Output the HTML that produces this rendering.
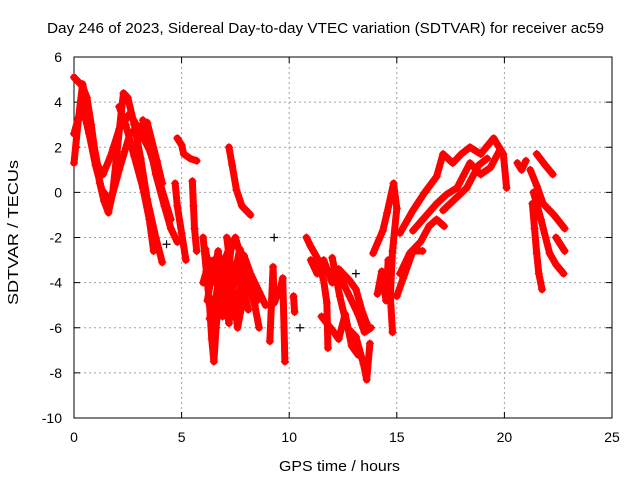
<!DOCTYPE html>
<html><head><meta charset="utf-8"><style>
body{margin:0;background:#fff}
svg{display:block;font-family:"Liberation Sans",sans-serif}
</style></head><body>
<svg id="chart" width="640" height="480">
<text x="47" y="33" font-size="15" textLength="557" lengthAdjust="spacingAndGlyphs">Day 246 of 2023, Sidereal Day-to-day VTEC variation (SDTVAR) for receiver ac59</text>
<text x="279" y="471" font-size="15" textLength="121" lengthAdjust="spacingAndGlyphs">GPS time / hours</text>
<text transform="translate(18,305) rotate(-90)" font-size="15" textLength="145" lengthAdjust="spacingAndGlyphs">SDTVAR / TECUs</text>
<g id="grid"></g>
<g id="axes"></g>
<g id="marks"></g>
</svg>
<script>
const xTicks=[0,5,10,15,20,25];
const yTicks=[-10,-8,-6,-4,-2,0,2,4,6];
const trackA=[[0,5.1],[0.2,4.9],[0.4,4.7],[0.6,4.2],[0.8,3],[1.0,1.6],[1.2,0.4],[1.4,-0.4],[1.6,-0.9],[1.8,0],[2.0,1.8],[2.2,3.6],[2.3,4.4],[2.5,4.2],[2.8,3.0],[3.1,1.5],[3.4,-0.3],[3.8,-2.0],[4.1,-3.1]];
const trackB=[[0,1.3],[0.2,3.2],[0.4,4.8],[0.6,3.8],[0.9,2.2],[1.1,1.2],[1.35,0.8],[1.7,1.6],[2.1,2.8],[2.6,3.5],[3.0,2.8],[3.5,1.9],[4.0,0.4],[4.5,-1.2]];
const trackC=[[0,2.6],[0.2,3.3],[0.4,3.8],[0.7,2.6],[1.0,1.2],[1.3,0.1],[1.7,-0.4],[2.1,1.0],[2.6,2.6],[3.0,2.9],[3.4,3.1],[3.85,1.4],[4.1,0.4]];
const trackC2=[[2.1,3.8],[2.4,3.0],[2.8,1.6],[3.2,0.2],[3.5,-1.2],[3.7,-2.6]];
const trackC3=[[3.2,3.2],[3.5,2.2],[3.8,0.8],[4.2,-0.6],[4.5,-1.6],[4.8,-2.2]];
const trackD=[[4.8,2.4],[5.0,2.1],[5.1,1.7],[5.4,1.5],[5.7,1.4]];
const trackE=[[4.7,0.4],[4.8,-0.6],[5.0,-1.8],[5.2,-3.0]];
const trackF=[[5.5,0.5],[5.55,-0.6],[5.6,-1.6],[5.7,-2.6]];
const trackG=[[7.2,2.0],[7.35,1.2],[7.55,0.1],[7.8,-0.6],[8.2,-1.0]];
const trackG2=[[7.1,-2.0],[7.2,-2.8],[7.3,-2.2]];
const trackH=[[6.0,-2.0],[6.15,-3.5],[6.3,-5.0],[6.4,-6.5],[6.5,-7.5],[6.6,-6.0],[6.8,-4.0],[7.0,-3.0],[7.2,-2.5],[7.4,-4.5],[7.6,-6.0],[7.8,-5.0],[8.0,-3.5]];
const trackI=[[6.0,-4.0],[6.3,-3.0],[6.6,-3.5],[6.9,-5.5],[7.1,-4.0],[7.3,-2.5],[7.5,-2.0],[7.8,-3.0],[8.1,-4.0],[8.4,-5.0],[8.6,-6.0]];
const trackJ=[[6.1,-2.5],[6.4,-4.0],[6.7,-2.6],[7.0,-4.5],[7.2,-5.8],[7.5,-3.5],[7.7,-2.5],[8.0,-3.2],[8.3,-4.2],[8.5,-4.8]];
const trackJ2=[[6.2,-4.8],[6.5,-3.0],[6.8,-5.0],[7.0,-3.6],[7.3,-3.2],[7.6,-4.0],[7.9,-2.8],[8.2,-3.6],[8.6,-4.4],[8.9,-5.0]];
const trackJ3=[[6.3,-5.6],[6.6,-4.6],[6.9,-3.0],[7.2,-4.8],[7.5,-5.2],[7.8,-4.0],[8.1,-5.2]];
const trackK=[[9.1,-6.6],[9.25,-3.3],[9.3,-4.9],[9.6,-4.2],[9.7,-3.8],[9.8,-7.5]];
const trackK2=[[10.2,-4.6],[10.25,-5.3]];
const trackL=[[10.8,-2.0],[11.0,-2.4],[11.3,-2.9],[11.6,-3.9],[11.75,-4.9],[11.8,-6.9]];
const trackL2=[[12.0,-2.9],[12.35,-4.6],[12.7,-6.0],[13.1,-6.4],[13.45,-7.6],[13.6,-8.3],[13.75,-6.7]];
const trackL3=[[11.9,-3.5],[12.3,-3.4],[12.8,-3.9],[13.1,-4.3],[13.4,-5.3],[13.6,-5.8]];
const trackL4=[[11.5,-5.5],[12.0,-6.1],[12.3,-6.5],[12.6,-5.4],[12.9,-6.8],[13.2,-7.2]];
const trackL5=[[11.0,-3.0],[11.3,-3.6],[11.6,-3.0],[12.0,-4.0],[12.4,-3.8],[12.8,-4.6],[13.2,-5.4],[13.5,-6.2],[13.8,-6.0]];
const trackM=[[13.9,-2.7],[14.35,-1.7],[14.55,-0.9],[14.85,0.4],[15.0,-0.7],[14.8,-2.6],[14.7,-4.6],[14.8,-6.2]];
const trackM2=[[14.1,-4.5],[14.3,-3.5],[14.5,-4.8],[14.6,-3.0]];
const trackN=[[15.15,-1.8],[15.75,-0.8],[16.3,0],[16.85,0.7],[17.15,1.7],[17.6,1.3],[18.0,1.7],[18.4,2.0],[18.9,1.7],[19.5,2.4],[19.95,1.7],[20.1,0.2]];
const trackO=[[15.75,-1.7],[16.3,-1.1],[16.85,-0.5],[17.3,-0.1],[17.8,0.2],[18.4,1.3],[18.9,0.8],[19.35,1.1],[19.8,1.9]];
const trackP=[[17.15,-0.8],[17.7,-0.3],[18.25,0.2],[18.8,1.2],[19.2,1.5]];
const trackQ=[[15.15,-3.6],[15.6,-2.7],[16.1,-2.2],[16.5,-1.5],[16.85,-1.2],[17.2,-1.5]];
const trackR=[[15.0,-4.6],[15.3,-3.8],[15.75,-2.6],[16.2,-2.6]];
const trackS=[[20.6,1.3],[20.8,1.0],[21.0,1.4]];
const trackT=[[21.5,1.7],[21.9,1.2],[22.25,0.8]];
const trackU=[[21.2,1.0],[21.5,0.3],[21.8,-0.5],[22.3,-1.0],[22.8,-1.6]];
const trackV=[[21.35,0.0],[21.7,-1.2],[22.1,-2.7],[22.4,-3.2],[22.75,-3.6]];
const trackV2=[[22.4,-2.0],[22.8,-2.6]];
const trackW=[[21.3,-0.5],[21.4,-1.6],[21.5,-2.7],[21.6,-3.6],[21.75,-4.3]];
const blackPts=[[9.3,-2.0],[10.5,-6.0],[4.3,-2.3],[13.1,-3.6]];
const tracks=[trackA,trackB,trackC,trackC2,trackC3,trackD,trackE,trackF,trackG,trackG2,trackH,trackI,trackJ,trackJ2,trackJ3,trackK,trackK2,trackL,trackL2,trackL3,trackL4,trackL5,trackM,trackM2,trackN,trackO,trackP,trackQ,trackR,trackS,trackT,trackU,trackV,trackV2,trackW];

const X0=74,X1=612,Y0=418,Y1=57;
const xs=t=>X0+(t-0)/(25-0)*(X1-X0);
const ys=v=>Y0-(v+10)/(16)*(Y0-Y1);
const NS="http://www.w3.org/2000/svg";
function mk(tag,attrs,parent){const e=document.createElementNS(NS,tag);for(const k in attrs)e.setAttribute(k,attrs[k]);parent.appendChild(e);return e;}
const grid=document.getElementById('grid'),axes=document.getElementById('axes'),marks=document.getElementById('marks');
xTicks.forEach(t=>{
  if(t>0&&t<25){const g=mk('line',{x1:xs(t),x2:xs(t),y1:Y1,y2:Y0,stroke:'#a0a0a0','stroke-dasharray':'2,3'},grid);
  
  }
  mk('line',{x1:xs(t),x2:xs(t),y1:Y0,y2:Y0-6,stroke:'#000'},axes);
  mk('line',{x1:xs(t),x2:xs(t),y1:Y1,y2:Y1+6,stroke:'#000'},axes);
  const l=mk('text',{x:xs(t),y:Y0+24,'font-size':14,'text-anchor':'middle'},axes);l.textContent=t;
  
  
});
yTicks.forEach(v=>{
  if(v>-10&&v<6){const g=mk('line',{x1:X0,x2:X1,y1:ys(v),y2:ys(v),stroke:'#a0a0a0','stroke-dasharray':'2,3'},grid);
  
  }
  mk('line',{x1:X0,x2:X0+6,y1:ys(v),y2:ys(v),stroke:'#000'},axes);
  mk('line',{x1:X1,x2:X1-6,y1:ys(v),y2:ys(v),stroke:'#000'},axes);
  const l=mk('text',{x:X0-12,y:ys(v)+5,'font-size':14,'text-anchor':'end'},axes);l.textContent=v;
  
  
});
const fr=mk('rect',{x:X0,y:Y1,width:X1-X0,height:Y0-Y1,fill:'none',stroke:'#000'},axes);


function plus(t,v,color){
  const x=xs(t),y=ys(v);
  const p=mk('path',{d:`M${x-4},${y}H${x+4}M${x},${y-4}V${y+4}`,stroke:color,'stroke-width':1.2,fill:'none'},marks);
  
  
}
tracks.forEach(tr=>{
  const pl=mk('polyline',{points:tr.map(p=>xs(p[0])+','+ys(p[1])).join(' '),fill:'none',stroke:'#ff0000','stroke-width':7,'stroke-linejoin':'round','stroke-linecap':'round'},marks);
  
  
  tr.forEach(p=>plus(p[0],p[1],'#ff0000'));
});
blackPts.forEach(p=>plus(p[0],p[1],'#000'));
</script>
</body></html>
